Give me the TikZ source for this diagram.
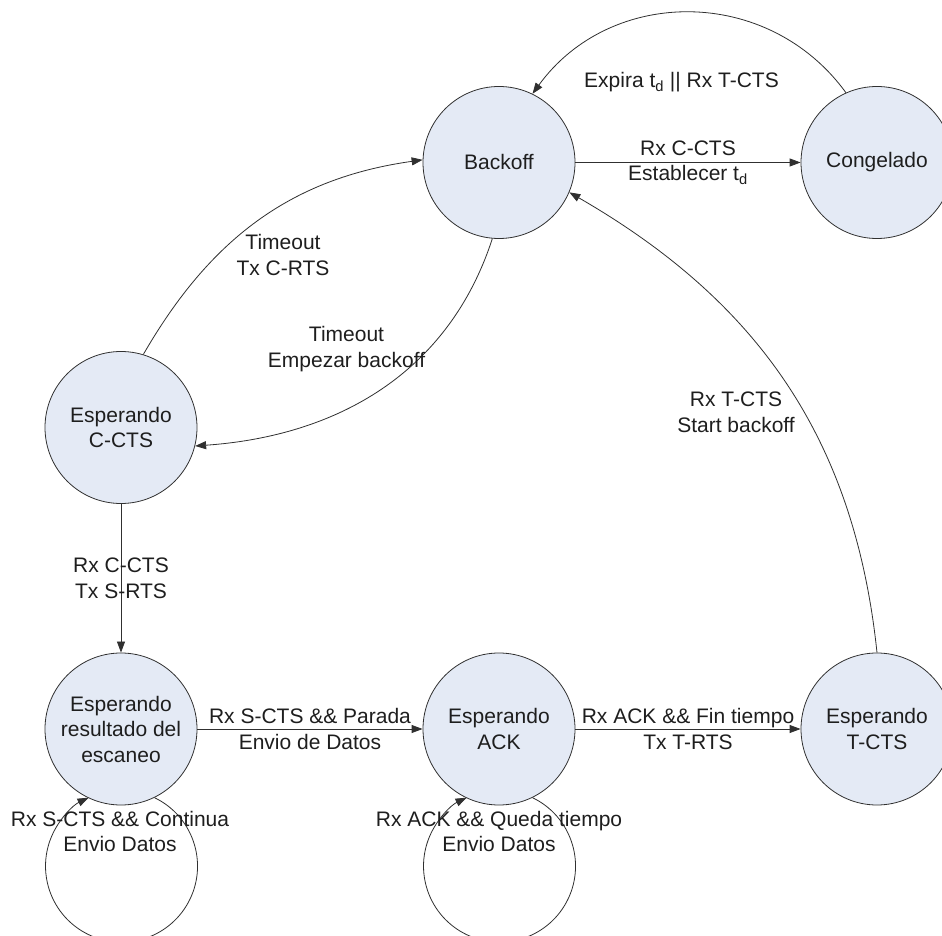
\documentclass[tikz,border=0pt]{standalone}
\usepackage{fontspec}
\setmainfont{Liberation Sans}
\usetikzlibrary{arrows.meta}
\definecolor{statefill}{HTML}{E4EAF5}
\definecolor{edgecol}{HTML}{303030}
\definecolor{txtcol}{HTML}{1E1E1E}
\begin{document}
\begin{tikzpicture}[x=1pt,y=1pt,
  state/.style={circle, draw=edgecol, line width=0.8pt, fill=statefill,
    minimum size=152pt, inner sep=0pt, align=center,
    font=\fontsize{21}{25.5}\selectfont, text=txtcol},
  lbl/.style={inner sep=0pt, align=center,
    font=\fontsize{21}{25.5}\selectfont, text=txtcol},
  trans/.style={draw=edgecol, line width=0.8pt,
    -{Triangle[length=11pt,width=8pt]}}
]
\useasboundingbox (0,0) rectangle (942,935);

% states
\node[state] (back) at (499,772.5) {Backoff};
\node[state] (cong) at (877,772.5) {Congelado};
\node[state] (ccts) at (121,507.5) {Esperando\\C-CTS};
\node[state] (res)  at (121,206) {Esperando\\resultado del\\escaneo};
\node[state] (ack)  at (499,206) {Esperando\\ACK};
\node[state] (tcts) at (877,206) {Esperando\\T-CTS};

% straight transitions
\draw[trans] (back) -- node[lbl] (l1) {Rx C-CTS\\Establecer t\textsubscript{d}} (cong);
\draw[trans] (ccts) -- node[lbl] (l2) {Rx C-CTS\\Tx S-RTS} (res);
\draw[trans] (res) -- node[lbl] (l3) {Rx S-CTS \&\& Parada\\Envio de Datos} (ack);
\draw[trans] (ack) -- node[lbl] (l4) {Rx ACK \&\& Fin tiempo\\Tx T-RTS} (tcts);

% curved transitions
\draw[trans] (cong.114) to[out=126, in=54, looseness=1.08] (back.64);
\node[lbl, anchor=base] (l5) at (681.5,847) {Expira t\textsubscript{d} || Rx T-CTS};

\draw[trans] (back.-95) to[out=252, in=4] (ccts.-14.5);
\node[lbl] (l6) at (346.5,586) {Timeout\\Empezar backoff};

\draw[trans] (ccts.73) to[out=60, in=188] (back.178);
\node[lbl] (l7) at (283,680) {Timeout\\Tx C-RTS};

\draw[trans] (tcts.90) to[out=96, in=-30] (back.-23);
\node[lbl] (l8) at (736,522.7) {Rx T-CTS\\Start backoff};

% self loops
\draw[trans] (res.-64.3) arc[start angle=64.3, end angle=-244.3, radius=76];
\node[lbl] (l9) at (120,103.3) {Rx S-CTS \&\& Continua\\Envio Datos};

\draw[trans] (ack.-64.3) arc[start angle=64.3, end angle=-244.3, radius=76];
\node[lbl] (l10) at (499,103.3) {Rx ACK \&\& Queda tiempo\\Envio Datos};
\end{tikzpicture}
\end{document}
